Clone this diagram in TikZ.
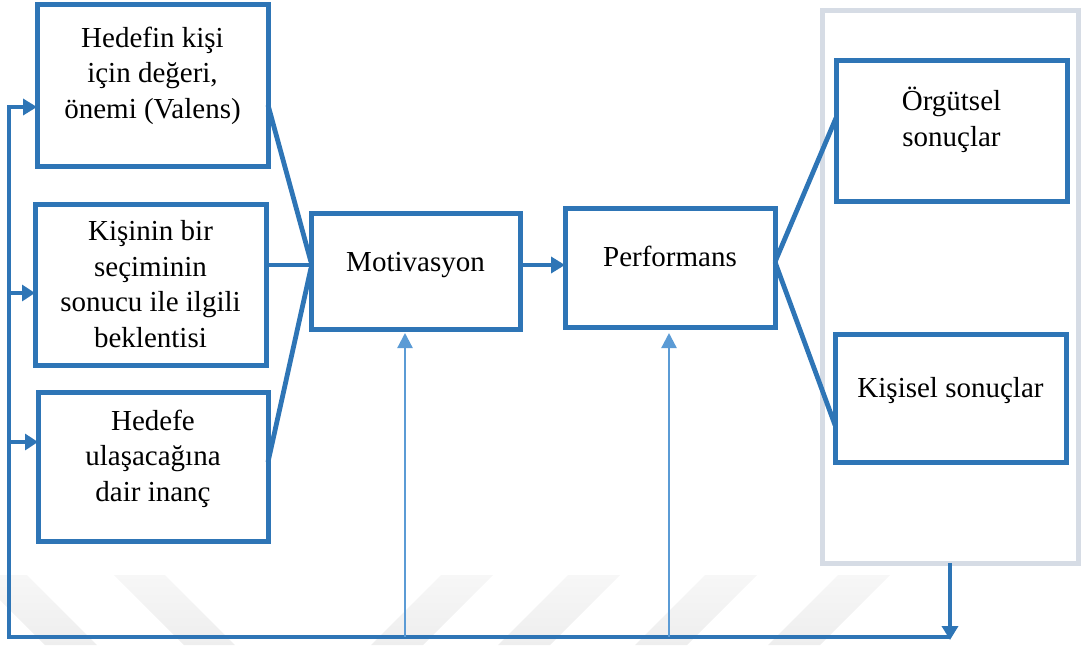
\documentclass[tikz,border=0pt]{standalone}
\usepackage{fontspec}
\setmainfont{Liberation Serif}
\usetikzlibrary{arrows.meta}
\definecolor{mainblue}{HTML}{2E75B6}
\definecolor{lightblue}{HTML}{5B9BD5}
\definecolor{panelgray}{HTML}{D6DCE5}
\definecolor{wmgray}{HTML}{EEEEEE}
\definecolor{wmtop}{HTML}{F7F7F7}
\begin{document}
\begin{tikzpicture}[x=1pt,y=-1pt,
  box/.style={draw=mainblue, line width=5pt, inner sep=0pt, outer sep=0pt, fill=white},
  panel/.style={draw=panelgray, line width=5pt, inner sep=0pt, outer sep=0pt},
  lbl/.style={font=\fontsize{29}{35.5}\selectfont, align=center, anchor=base, inner sep=0pt},
  conn/.style={draw=mainblue, line width=4.8pt},
  arr/.style={conn, -{Triangle[length=14pt,width=16pt]}},
  rarr/.style={conn, {Triangle[length=13pt,width=16pt]}-},
  thinarr/.style={draw=lightblue, line width=2.3pt, {Triangle[length=15pt,width=15pt]}-},
  wm/.style={top color=wmtop, bottom color=wmgray, draw=none}
]
\useasboundingbox (0,0) rectangle (1081,645);
% watermark stripes
\begin{scope}
\clip (0,0) rectangle (1081,645);
\shade[wm] (-25,575) -- (27,575) -- (97,645) -- (45,645) -- cycle;
\shade[wm] (114,575) -- (165,575) -- (235,645) -- (184,645) -- cycle;
\foreach \a in {441,568,705,838}
  \shade[wm] (\a,575) -- (\a+52,575) -- (\a-18,645) -- (\a-70,645) -- cycle;
\end{scope}
% outer panel
\node[panel, minimum width=256pt, minimum height=553pt] (panel) at (950,286.5) {};
% boxes
\node[box, minimum width=231pt, minimum height=162pt] (b1) at (152.5,85) {};
\node[box, minimum width=231pt, minimum height=161pt] (b2) at (150.5,284.5) {};
\node[box, minimum width=230pt, minimum height=149pt] (b3) at (153,466.5) {};
\node[box, minimum width=209pt, minimum height=116pt] (m) at (415.5,271) {};
\node[box, minimum width=210pt, minimum height=119pt] (p) at (670,267.5) {};
\node[box, minimum width=231pt, minimum height=141pt] (o) at (951.5,130.5) {};
\node[box, minimum width=231pt, minimum height=128pt] (k) at (950.5,398) {};
% labels (base anchor = baseline of the last line)
\node[lbl] (t1) at (152.5,118) {Hedefin kişi\\için değeri,\\önemi (Valens)};
\node[lbl] (t2) at (150.5,347) {Kişinin bir\\seçiminin\\sonucu ile ilgili\\beklentisi};
\node[lbl] (t3) at (153,501) {Hedefe\\ulaşacağına\\dair inanç};
\node[lbl] (t4) at (415.5,271) {Motivasyon};
\node[lbl] (t5) at (670,266) {Performans};
\node[lbl] (t6) at (951.5,146) {Örgütsel\\sonuçlar};
\node[lbl] (t7) at (950.5,397) {Kişisel sonuçlar};
% connectors into Motivasyon
\draw[conn] ([yshift=-20pt]b1.east) -- ([yshift=9pt]m.west);
\draw[conn] ([yshift=19.5pt]b2.east) -- ([yshift=6pt]m.west);
\draw[conn] ([yshift=4.5pt]b3.east) -- ([yshift=3pt]m.west);
\draw[arr] ([yshift=6pt]m.east) -- ([yshift=2.5pt]p.west);
% Performans to outcomes
\draw[conn] ([yshift=5.5pt]p.east) -- ([yshift=12.5pt]o.west);
\draw[conn] ([yshift=5.5pt]p.east) -- ([yshift=-27pt]k.west);
% feedback loop
\coordinate (fb) at (950,637);
\coordinate (fl) at (9,637);
\draw[arr] (panel.south) -- ([yshift=-3pt]fb);
\draw[arr] (fb) -- (fl) |- ([yshift=-22pt]b1.west);
\draw[rarr] ([yshift=-8.5pt]b2.west) -- ++(-26,0);
\draw[rarr] ([yshift=24.5pt]b3.west) -- ++(-29,0);
% thin arrows up
\draw[thinarr] ([xshift=-10.5pt,yshift=-4pt]m.south) -- ++(0,304);
\draw[thinarr] ([xshift=-1pt,yshift=-6pt]p.south) -- ++(0,304);
\end{tikzpicture}
\end{document}
